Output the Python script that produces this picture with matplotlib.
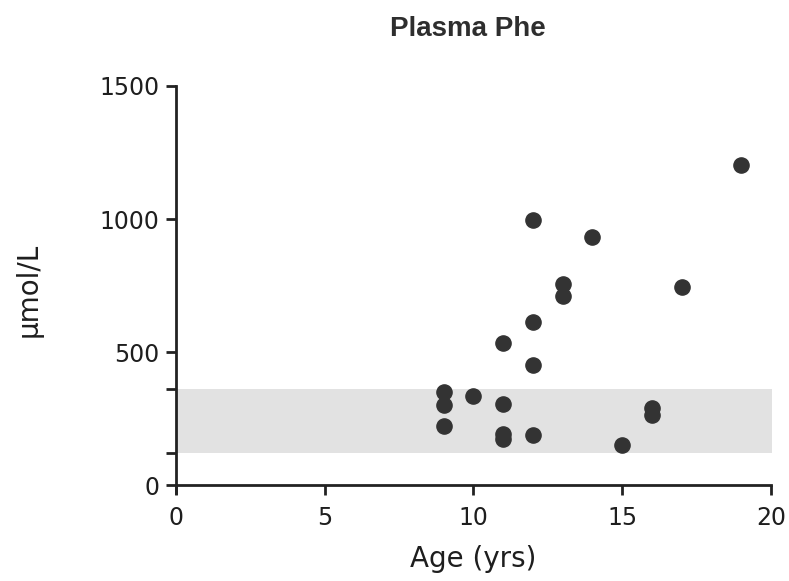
import matplotlib
matplotlib.use("Agg")
import matplotlib.pyplot as plt

# Age (yrs) and plasma Phe (umol/L)
age = [9, 9, 9, 10, 11, 11, 11, 11, 12, 12, 12, 12, 13, 13, 14, 15, 16, 16, 17, 19]
phe = [350, 302, 224, 334, 535, 307, 192, 172, 998, 615, 452, 188, 755, 712, 932, 152, 289, 263, 744, 1202]

# target range band
band_low, band_high = 120, 360

x_ticks = [0, 5, 10, 15, 20]
y_ticks = [0, 500, 1000, 1500]

plt.rcParams['font.family'] = ['DejaVu Sans']

fig = plt.figure(figsize=(7.89, 5.81), dpi=100)
ax = fig.add_axes([0.223, 0.151, 0.754, 0.701])

ax.fill_between([0, 20.15], band_low, band_high, color='#e2e2e2', lw=0, zorder=1)
ax.scatter(age, phe, s=120, color='#333333', zorder=3, clip_on=False)

ax.set_xlim(0, 20)
ax.set_ylim(-30, 1500)
ax.spines['top'].set_visible(False)
ax.spines['right'].set_visible(False)
ax.spines['bottom'].set_position(('data', 0))
for s in ['left', 'bottom']:
    ax.spines[s].set_linewidth(2)
    ax.spines[s].set_color('#222222')

ax.set_xticks(x_ticks)
ax.set_yticks(y_ticks)
ax.set_yticks([band_low, band_high], minor=True)
ax.tick_params(axis='both', which='both', width=2, length=7, color='#222222',
               labelsize=17, labelcolor='#1e1e1e')
ax.tick_params(axis='y', which='major', pad=5)
ax.tick_params(axis='x', which='major', pad=8)

ax.set_xlabel('Age (yrs)', fontsize=20, color='#1e1e1e', labelpad=11)
ax.set_ylabel('µmol/L', fontsize=20, color='#1e1e1e', labelpad=41)
ax.set_title('Plasma Phe', fontsize=20, fontweight='bold', color='#2e2e2e', pad=36,
             family='Liberation Sans', x=0.49)

fig.savefig('out.png', dpi=100)
